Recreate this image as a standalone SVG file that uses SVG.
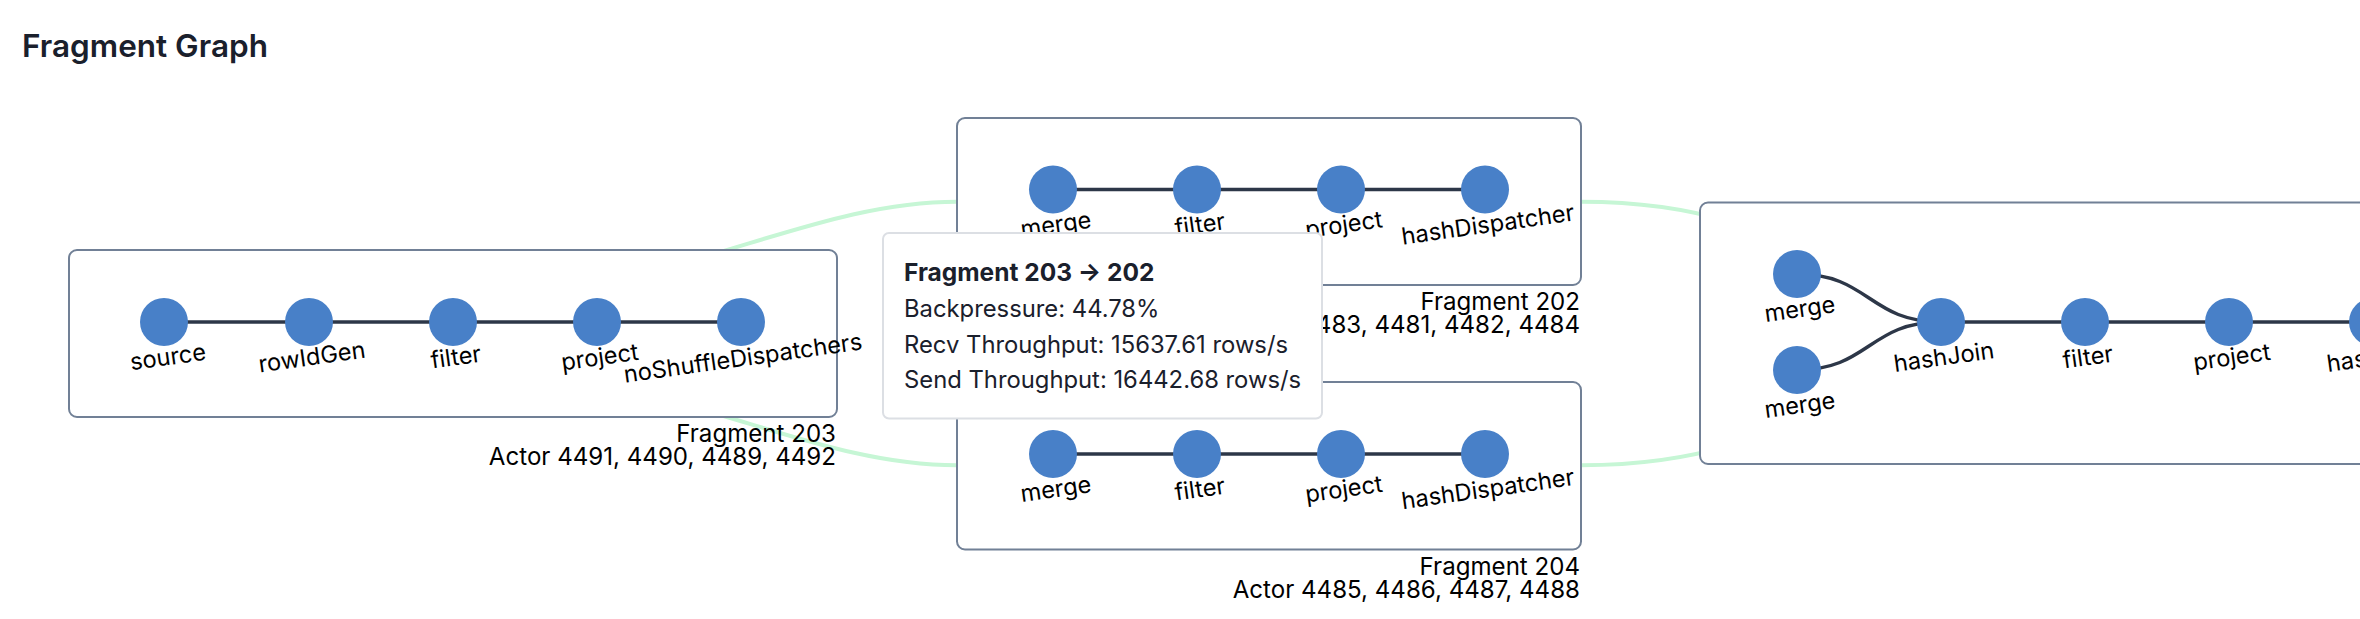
<svg xmlns="http://www.w3.org/2000/svg" width="2360" height="619" viewBox="0 0 2360 619">
<style>
text{font-family:Inter,"Liberation Sans",sans-serif}
.title{font-size:31.5px;font-weight:600;fill:#1a202c}
.box{fill:#fff;stroke:#718096;stroke-width:2}
.link{fill:none;stroke:#c6f6d5;stroke-width:4}
.edge{fill:none;stroke:#2d3748;stroke-width:3.5}
.op{fill:#4880c8}
.lbl{font-size:23.6px;fill:#000;text-anchor:middle}
.frag{font-size:24.1px;fill:#000;text-anchor:end}
.tip{fill:#fff;stroke:#dcdfe4;stroke-width:2}
.tt{font-size:23.8px;fill:#1a202c}
.tth{font-size:24.5px;font-weight:700;fill:#1a202c}
</style>
<rect width="2360" height="619" fill="#fff"/>
<text class="title" x="22" y="57">Fragment Graph</text>
<g id="connectors">
<path class="link" d="M700,258 C790,232 870,201.7 957,201.7"/>
<path class="link" d="M700,409 C790,435 870,465.3 957,465.3"/>
<path class="link" d="M1581,201.7 C1834.5,201.7 1834.5,333.5 2088,333.5"/>
<path class="link" d="M1581,465.3 C1834.5,465.3 1834.5,333.5 2088,333.5"/>
</g>
<g id="fragment-203">
<rect class="box" x="69" y="250" width="768" height="167" rx="8"/>
<path class="edge" d="M164,322 H740"/>
<circle class="op" cx="164" cy="322" r="24"/>
<circle class="op" cx="309" cy="322" r="24"/>
<circle class="op" cx="453" cy="322" r="24"/>
<circle class="op" cx="597" cy="322" r="24"/>
<circle class="op" cx="741" cy="322" r="24"/>
<text class="lbl" x="169" y="365" transform="rotate(-8 169 365)">source</text>
<text class="lbl" x="313" y="365" transform="rotate(-8 313 365)">rowIdGen</text>
<text class="lbl" x="457" y="365" transform="rotate(-8 457 365)">filter</text>
<text class="lbl" x="601" y="365" transform="rotate(-8 601 365)">project</text>
<text class="lbl" x="744" y="366" transform="rotate(-8 744 366)">noShuffleDispatchers</text>
<text class="frag" x="836" y="442">Fragment 203</text>
<text class="frag" x="836" y="465">Actor 4491, 4490, 4489, 4492</text>
</g>
<g id="fragment-202">
<rect class="box" x="957" y="118" width="624" height="167" rx="8"/>
<path class="edge" d="M1053,189.5 H1485"/>
<circle class="op" cx="1053" cy="189.5" r="24"/>
<circle class="op" cx="1197" cy="189.5" r="24"/>
<circle class="op" cx="1341" cy="189.5" r="24"/>
<circle class="op" cx="1485" cy="189.5" r="24"/>
<text class="lbl" x="1057" y="232.5" transform="rotate(-8 1057 232.5)">merge</text>
<text class="lbl" x="1201" y="232.5" transform="rotate(-8 1201 232.5)">filter</text>
<text class="lbl" x="1345" y="232.5" transform="rotate(-8 1345 232.5)">project</text>
<text class="lbl" x="1489" y="232.5" transform="rotate(-8 1489 232.5)">hashDispatcher</text>
<text class="frag" x="1580" y="310">Fragment 202</text>
<text class="frag" x="1580" y="333">Actor 4483, 4481, 4482, 4484</text>
</g>
<g id="fragment-204">
<rect class="box" x="957" y="382" width="624" height="167.5" rx="8"/>
<path class="edge" d="M1053,454 H1485"/>
<circle class="op" cx="1053" cy="454" r="24"/>
<circle class="op" cx="1197" cy="454" r="24"/>
<circle class="op" cx="1341" cy="454" r="24"/>
<circle class="op" cx="1485" cy="454" r="24"/>
<text class="lbl" x="1057" y="497" transform="rotate(-8 1057 497)">merge</text>
<text class="lbl" x="1201" y="497" transform="rotate(-8 1201 497)">filter</text>
<text class="lbl" x="1345" y="497" transform="rotate(-8 1345 497)">project</text>
<text class="lbl" x="1489" y="497" transform="rotate(-8 1489 497)">hashDispatcher</text>
<text class="frag" x="1580" y="574.5">Fragment 204</text>
<text class="frag" x="1580" y="597.5">Actor 4485, 4486, 4487, 4488</text>
</g>
<g id="fragment-201">
<rect class="box" x="1700" y="202.5" width="769" height="261.5" rx="8"/>
<path class="edge" d="M1797,274 C1869,274 1869,322 1941,322"/>
<path class="edge" d="M1797,370 C1869,370 1869,322 1941,322"/>
<path class="edge" d="M1941,322 H2373"/>
<circle class="op" cx="1797" cy="274" r="24"/>
<circle class="op" cx="1797" cy="370" r="24"/>
<circle class="op" cx="1941" cy="322" r="24"/>
<circle class="op" cx="2085" cy="322" r="24"/>
<circle class="op" cx="2229" cy="322" r="24"/>
<circle class="op" cx="2373" cy="322" r="24"/>
<text class="lbl" x="1801" y="317" transform="rotate(-8 1801 317)">merge</text>
<text class="lbl" x="1801" y="413" transform="rotate(-8 1801 413)">merge</text>
<text class="lbl" x="1945" y="365" transform="rotate(-8 1945 365)">hashJoin</text>
<text class="lbl" x="2089" y="365" transform="rotate(-8 2089 365)">filter</text>
<text class="lbl" x="2233" y="365" transform="rotate(-8 2233 365)">project</text>
<text class="lbl" x="2377" y="365" transform="rotate(-8 2377 365)">hashAgg</text>
</g>
<g id="tooltip">
<rect class="tip" x="883" y="233" width="439" height="185.5" rx="6"/>
<text class="tth" x="904" y="281">Fragment 203 → 202</text>
<text class="tt" x="904" y="317">Backpressure: 44.78%</text>
<text class="tt" x="904" y="352.5">Recv Throughput: 15637.61 rows/s</text>
<text class="tt" x="904" y="388">Send Throughput: 16442.68 rows/s</text>
</g>
</svg>
